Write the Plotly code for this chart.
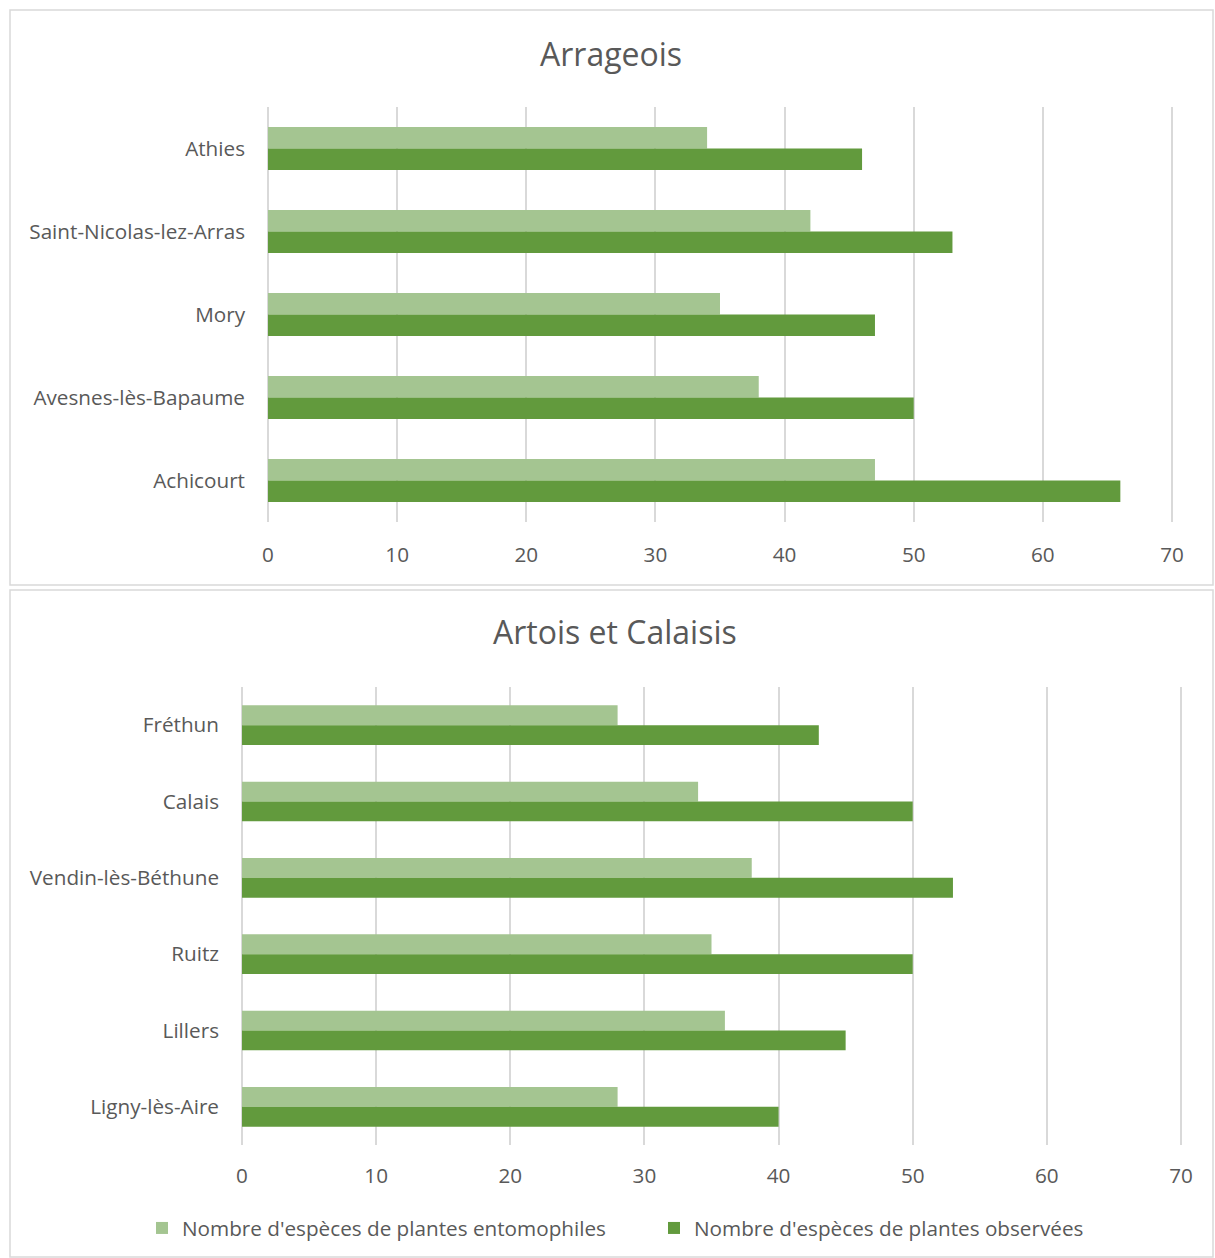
import plotly.graph_objects as go

# ---- data ----
cats_top = ["Athies", "Saint-Nicolas-lez-Arras", "Mory", "Avesnes-lès-Bapaume", "Achicourt"]
ento_top = [34, 42, 35, 38, 47]
obs_top = [46, 53, 47, 50, 66]

cats_bot = ["Fréthun", "Calais", "Vendin-lès-Béthune", "Ruitz", "Lillers", "Ligny-lès-Aire"]
ento_bot = [28, 34, 38, 35, 36, 28]
obs_bot = [43, 50, 53, 50, 45, 40]

title_top = "Arrageois"
title_bot = "Artois et Calaisis"
name_ento = "Nombre d'espèces de plantes entomophiles"
name_obs = "Nombre d'espèces de plantes observées"
x_ticks = [0, 10, 20, 30, 40, 50, 60, 70]

# ---- style ----
W, H = 1215, 1258
LIGHT = "#A4C591"
DARK = "#629A3D"
TXT = "#595959"
GRID = "#D9D9D9"
FONT = "Open Sans"
FS = 20.7
XMAX = 70.1

def px(x):
    return x / W

def py(y):
    return 1 - y / H

fig = go.Figure()

fig.add_trace(go.Bar(y=cats_top, x=ento_top, orientation="h", name=name_ento,
                     marker=dict(color=LIGHT, line=dict(width=0)),
                     xaxis="x", yaxis="y", legendgroup="e"))
fig.add_trace(go.Bar(y=cats_top, x=obs_top, orientation="h", name=name_obs,
                     marker=dict(color=DARK, line=dict(width=0)),
                     xaxis="x", yaxis="y", legendgroup="o"))
fig.add_trace(go.Bar(y=cats_bot, x=ento_bot, orientation="h", name=name_ento,
                     marker=dict(color=LIGHT, line=dict(width=0)),
                     xaxis="x2", yaxis="y2", legendgroup="e", showlegend=False))
fig.add_trace(go.Bar(y=cats_bot, x=obs_bot, orientation="h", name=name_obs,
                     marker=dict(color=DARK, line=dict(width=0)),
                     xaxis="x2", yaxis="y2", legendgroup="o", showlegend=False))

xcommon = dict(range=[0, XMAX], tickvals=x_ticks, showgrid=True, gridcolor=GRID, gridwidth=1.5,
               zeroline=True, zerolinecolor=GRID, zerolinewidth=1.5, showline=False,
               ticks="", tickfont=dict(family=FONT, size=FS, color=TXT), fixedrange=True,
               automargin=False)
ycommon = dict(autorange="reversed", showgrid=False, zeroline=False, showline=False, ticks="",
               tickfont=dict(family=FONT, size=FS, color=TXT), ticklabelstandoff=22,
               automargin=False, fixedrange=True)

fig.update_layout(
    template="none",
    width=W, height=H, autosize=False,
    margin=dict(l=0, r=0, t=0, b=0, pad=0, autoexpand=False),
    paper_bgcolor="white", plot_bgcolor="white",
    barmode="group", bargap=0.48, bargroupgap=0,
    xaxis=dict(domain=[px(268), px(1172 + 0.1 * 904 / 70)], anchor="y", ticklabelstandoff=18, **xcommon),
    yaxis=dict(domain=[py(522), py(107)], anchor="x", **ycommon),
    xaxis2=dict(domain=[px(242), px(1181 + 0.1 * 939 / 70)], anchor="y2", ticklabelstandoff=16, **xcommon),
    yaxis2=dict(domain=[py(1145), py(687)], anchor="x2", **ycommon),
    legend=dict(orientation="h", x=px(654), xanchor="center", y=py(1228), yanchor="middle",
                font=dict(family=FONT, size=FS, color=TXT), itemwidth=30, entrywidth=467,
                bgcolor="rgba(0,0,0,0)", borderwidth=0),
    showlegend=True,
    shapes=[
        dict(type="rect", xref="paper", yref="paper", x0=px(10), x1=px(1213), y0=py(585), y1=py(10),
             line=dict(color=GRID, width=1.5), fillcolor="rgba(0,0,0,0)", layer="below"),
        dict(type="rect", xref="paper", yref="paper", x0=px(10), x1=px(1213), y0=py(1257), y1=py(590),
             line=dict(color=GRID, width=1.5), fillcolor="rgba(0,0,0,0)", layer="below"),
    ],
    annotations=[
        dict(text=title_top, xref="paper", yref="paper", x=px(611), y=py(53), showarrow=False,
             xanchor="center", yanchor="middle", font=dict(family=FONT, size=32, color=TXT)),
        dict(text=title_bot, xref="paper", yref="paper", x=px(615), y=py(632), showarrow=False,
             xanchor="center", yanchor="middle", font=dict(family=FONT, size=32, color=TXT)),
    ],
)

post = ("document.documentElement.style.margin='0';document.documentElement.style.overflow='hidden';"
        "document.body.style.margin='0';document.body.style.overflow='hidden';")
fig.write_html("out.html", post_script=post, config={"responsive": False})
